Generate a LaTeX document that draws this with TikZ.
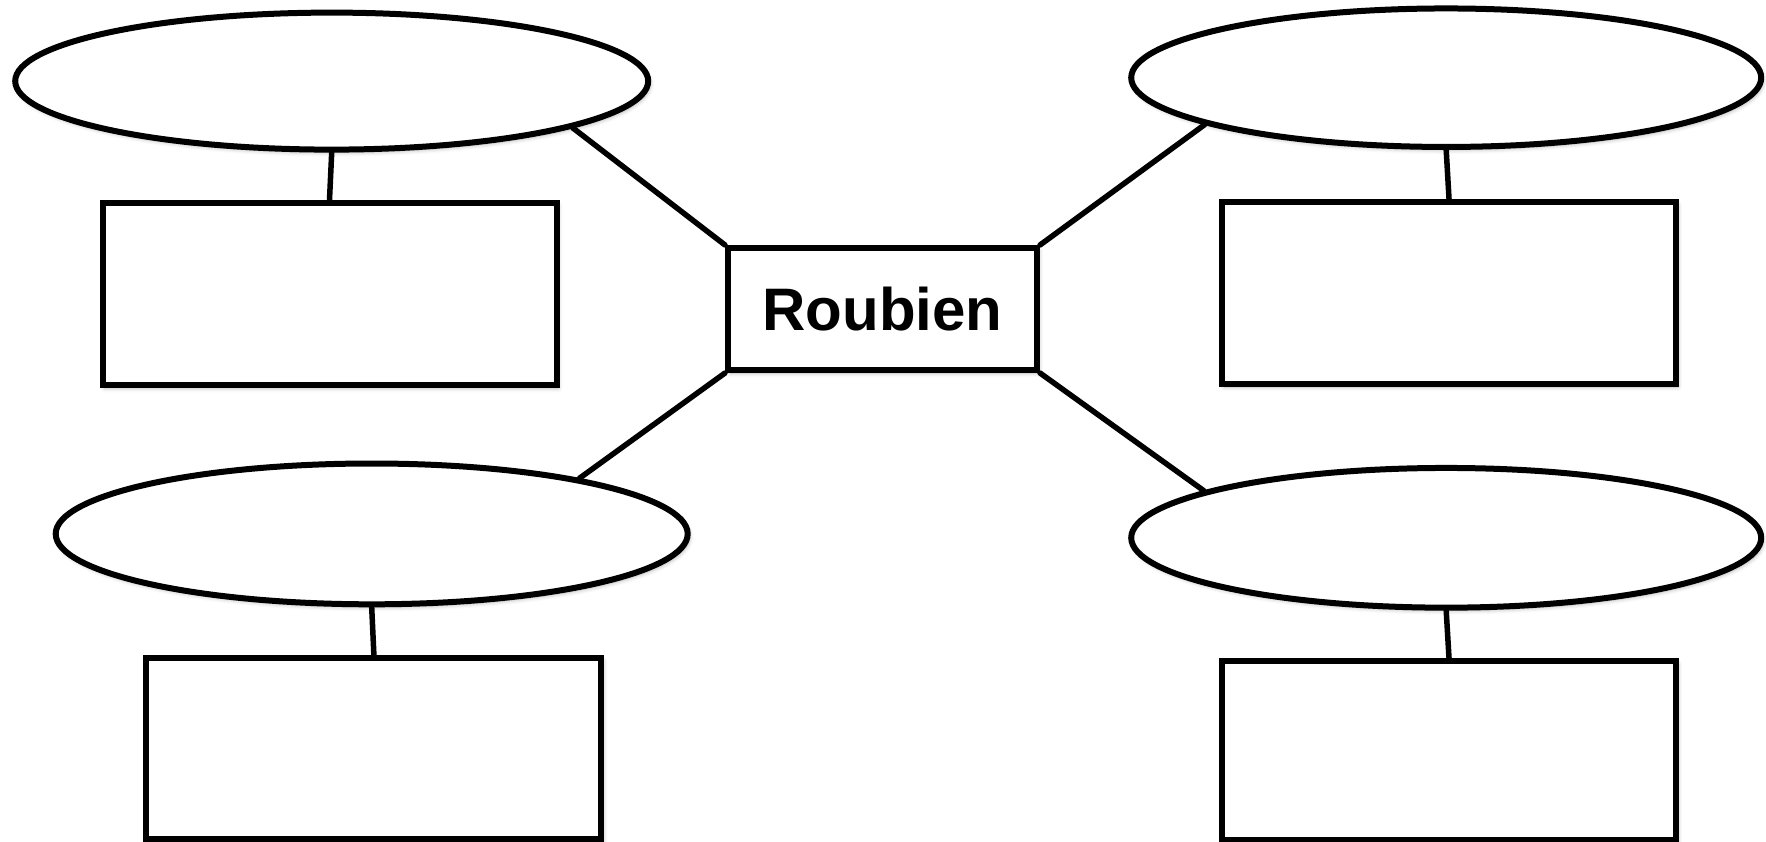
\documentclass[tikz,border=0pt]{standalone}
\usepackage{fontspec}
\setmainfont{Liberation Sans}
\usetikzlibrary{shapes.geometric,shadows.blur}
\begin{document}
\begin{tikzpicture}[x=1pt,y=-1pt,
  shad/.style={blur shadow={shadow xshift=2pt,shadow yshift=-3pt,shadow blur radius=4pt,shadow opacity=30}},
  oval/.style={ellipse,draw,line width=6pt,fill=white,inner sep=0pt,shad},
  box/.style={rectangle,draw,line width=6pt,fill=white,inner sep=0pt,shad},
  link/.style={line width=5.5pt,line cap=round}]
\useasboundingbox (0,0) rectangle (1766,841);
\node[oval,minimum width=633pt,minimum height=137pt] (e1) at (331.7,81.1) {};
\node[oval,minimum width=630pt,minimum height=138.5pt] (e2) at (1446.2,77.7) {};
\node[oval,minimum width=632pt,minimum height=140.8pt] (e3) at (371.7,533.9) {};
\node[oval,minimum width=630pt,minimum height=139.7pt] (e4) at (1446.2,537.8) {};
\node[box,minimum width=454pt,minimum height=182.5pt] (r1) at (329.5,294) {};
\node[box,minimum width=454pt,minimum height=182.4pt] (r2) at (1449,292.8) {};
\node[box,minimum width=455pt,minimum height=181pt] (r3) at (373.9,748.4) {};
\node[box,minimum width=454pt,minimum height=179pt] (r4) at (1449,750.5) {};
\node[box,minimum width=309pt,minimum height=122pt,font=\fontsize{60}{64}\selectfont\bfseries] (c) at (882.5,309) {Roubien};
\draw[link] (e1.-11.2) -- (c.north west);
\draw[link] (e2.-169.3) -- (c.north east);
\draw[link] (e3.15.2) -- (c.south west);
\draw[link] (e4.169.5) -- (c.south east);
\draw[link] (e1.south) -- (r1.north);
\draw[link] (e2.south) -- (r2.north);
\draw[link] (e3.south) -- (r3.north);
\draw[link] (e4.south) -- (r4.north);
\end{tikzpicture}
\end{document}
